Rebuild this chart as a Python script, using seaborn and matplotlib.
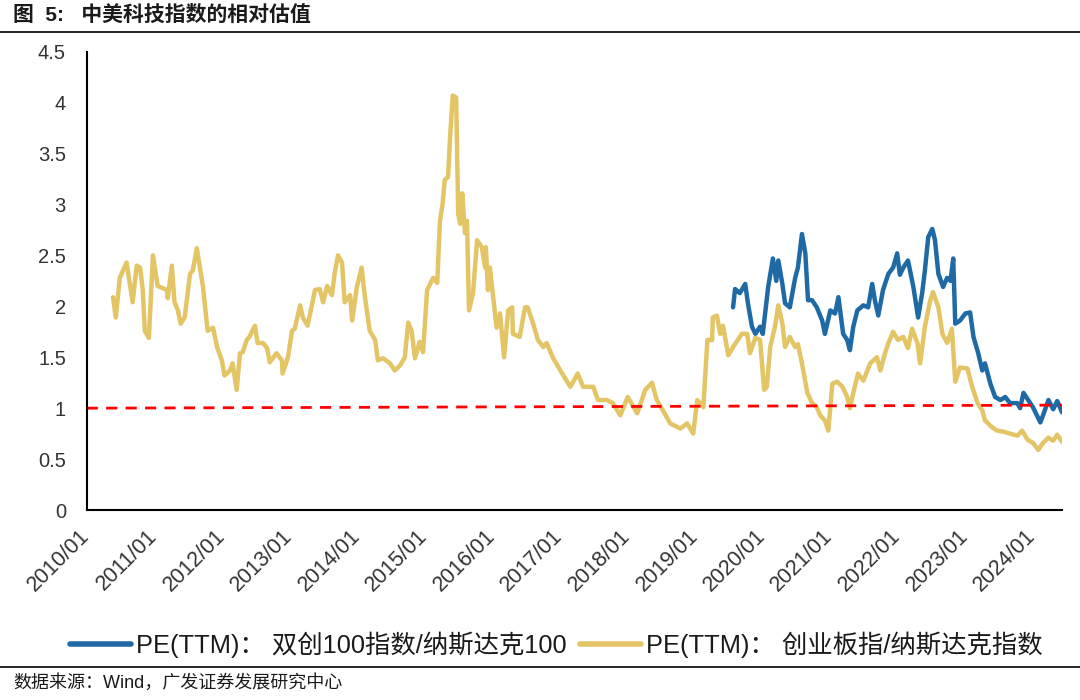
import pandas as pd
import matplotlib.pyplot as plt
import seaborn as sns

# PE(TTM) 创业板指/纳斯达克指数 (decimal year, ratio)
cyb_t = [2010.39, 2010.43, 2010.49, 2010.59, 2010.68, 2010.74, 2010.79, 2010.83, 2010.86, 2010.92,
         2010.98, 2011.05, 2011.19, 2011.20, 2011.26, 2011.30, 2011.35, 2011.39, 2011.45, 2011.53,
         2011.57, 2011.63, 2011.72, 2011.79, 2011.87, 2011.93, 2012.00, 2012.04, 2012.12, 2012.16,
         2012.22, 2012.27, 2012.31, 2012.37, 2012.41, 2012.49, 2012.53, 2012.61, 2012.67, 2012.71,
         2012.81, 2012.89, 2012.90, 2012.98, 2013.04, 2013.08, 2013.16, 2013.20, 2013.27, 2013.38,
         2013.45, 2013.50, 2013.56, 2013.63, 2013.67, 2013.72, 2013.78, 2013.82, 2013.90, 2013.93,
         2014.00, 2014.07, 2014.12, 2014.19, 2014.27, 2014.31, 2014.39, 2014.49, 2014.56, 2014.64,
         2014.71, 2014.76, 2014.81, 2014.86, 2014.93, 2014.98, 2015.04, 2015.13, 2015.19, 2015.23,
         2015.27, 2015.30, 2015.35, 2015.38, 2015.42, 2015.47, 2015.50, 2015.53, 2015.56, 2015.60,
         2015.63, 2015.66, 2015.72, 2015.78, 2015.85, 2015.90, 2015.91, 2015.94, 2015.97, 2016.04,
         2016.07, 2016.12, 2016.18, 2016.24, 2016.30, 2016.31, 2016.41, 2016.49, 2016.53, 2016.61,
         2016.68, 2016.76, 2016.81, 2016.90, 2017.04, 2017.16, 2017.27, 2017.35, 2017.50, 2017.57,
         2017.70, 2017.79, 2017.90, 2018.01, 2018.15, 2018.27, 2018.37, 2018.44, 2018.53, 2018.64,
         2018.79, 2018.89, 2018.98, 2019.04, 2019.13, 2019.19, 2019.26, 2019.27, 2019.33, 2019.38,
         2019.42, 2019.50, 2019.57, 2019.70, 2019.78, 2019.82, 2019.90, 2019.97, 2020.03, 2020.07,
         2020.12, 2020.19, 2020.24, 2020.30, 2020.34, 2020.41, 2020.49, 2020.53, 2020.59, 2020.67,
         2020.74, 2020.81, 2020.86, 2020.93, 2020.98, 2021.04, 2021.11, 2021.19, 2021.26, 2021.30,
         2021.35, 2021.42, 2021.50, 2021.60, 2021.70, 2021.75, 2021.82, 2021.87, 2021.94, 2022.01,
         2022.09, 2022.16, 2022.22, 2022.30, 2022.34, 2022.41, 2022.49, 2022.53, 2022.61, 2022.67,
         2022.74, 2022.81, 2022.86, 2022.93, 2023.04, 2023.11, 2023.19, 2023.26, 2023.30, 2023.41,
         2023.48, 2023.57, 2023.67, 2023.78, 2023.85, 2023.93, 2024.01, 2024.09, 2024.16, 2024.24,
         2024.31, 2024.37, 2024.44]
cyb_v = [2.09, 1.89, 2.28, 2.43, 2.04, 2.40, 2.38, 2.16, 1.76, 1.69,
         2.50, 2.20, 2.16, 2.08, 2.40, 2.04, 1.96, 1.83, 1.89, 2.32,
         2.35, 2.57, 2.20, 1.76, 1.79, 1.60, 1.47, 1.32, 1.37, 1.44,
         1.18, 1.54, 1.55, 1.67, 1.70, 1.81, 1.64, 1.64, 1.59, 1.45,
         1.54, 1.47, 1.34, 1.50, 1.76, 1.78, 2.01, 1.89, 1.81, 2.16,
         2.17, 2.04, 2.20, 2.11, 2.32, 2.50, 2.43, 2.04, 2.11, 1.86,
         2.19, 2.38, 2.09, 1.76, 1.67, 1.47, 1.49, 1.44, 1.37, 1.42,
         1.50, 1.84, 1.76, 1.49, 1.65, 1.55, 2.16, 2.28, 2.23, 2.84,
         3.01, 3.24, 3.27, 3.66, 4.07, 4.05, 2.91, 2.81, 3.11, 2.72,
         2.84, 1.96, 2.13, 2.65, 2.58, 2.38, 2.58, 2.16, 2.38, 1.96,
         1.79, 1.93, 1.50, 1.96, 1.99, 1.73, 1.70, 1.99, 1.99, 1.83,
         1.67, 1.60, 1.64, 1.50, 1.34, 1.21, 1.34, 1.21, 1.21, 1.08,
         1.08, 1.05, 0.93, 1.11, 0.95, 1.18, 1.25, 1.08, 0.98, 0.85,
         0.80, 0.85, 0.75, 1.08, 1.01, 1.67, 1.67, 1.89, 1.91, 1.73,
         1.81, 1.52, 1.60, 1.73, 1.73, 1.54, 1.69, 1.67, 1.18, 1.21,
         1.60, 1.80, 2.01, 1.83, 1.60, 1.70, 1.60, 1.63, 1.44, 1.15,
         1.05, 1.01, 0.93, 0.88, 0.78, 1.24, 1.26, 1.21, 1.11, 1.00,
         1.15, 1.34, 1.27, 1.44, 1.50, 1.37, 1.54, 1.64, 1.75, 1.67,
         1.70, 1.59, 1.78, 1.64, 1.44, 1.80, 2.06, 2.14, 1.99, 1.73,
         1.64, 1.78, 1.26, 1.40, 1.39, 1.21, 1.05, 0.98, 0.88, 0.81,
         0.78, 0.77, 0.75, 0.73, 0.78, 0.69, 0.66, 0.59, 0.66, 0.71,
         0.68, 0.74, 0.67]

# PE(TTM) 双创100指数/纳斯达克100
sc_t = [2019.57, 2019.60, 2019.67, 2019.75, 2019.79, 2019.85, 2019.90, 2019.97, 2020.01, 2020.09,
        2020.16, 2020.21, 2020.24, 2020.30, 2020.34, 2020.41, 2020.49, 2020.53, 2020.59, 2020.64,
        2020.68, 2020.74, 2020.81, 2020.89, 2020.93, 2021.01, 2021.08, 2021.13, 2021.20, 2021.26,
        2021.30, 2021.35, 2021.41, 2021.50, 2021.57, 2021.63, 2021.67, 2021.72, 2021.79, 2021.87,
        2021.94, 2022.00, 2022.04, 2022.09, 2022.16, 2022.24, 2022.31, 2022.37, 2022.41, 2022.46,
        2022.52, 2022.56, 2022.61, 2022.68, 2022.74, 2022.79, 2022.83, 2022.86, 2022.93, 2023.01,
        2023.08, 2023.13, 2023.20, 2023.26, 2023.30, 2023.38, 2023.45, 2023.53, 2023.60, 2023.67,
        2023.78, 2023.82, 2023.87, 2023.94, 2024.01, 2024.12, 2024.16, 2024.24, 2024.31, 2024.37,
        2024.44]
sc_v = [1.99, 2.17, 2.13, 2.22, 2.03, 1.80, 1.73, 1.80, 1.73, 2.19,
        2.47, 2.25, 2.45, 2.22, 2.03, 1.99, 2.28, 2.38, 2.71, 2.52,
        2.06, 2.06, 1.99, 1.86, 1.73, 1.96, 1.93, 2.09, 1.73, 1.67,
        1.57, 1.80, 1.96, 2.01, 1.99, 2.22, 2.06, 1.91, 2.16, 2.32,
        2.38, 2.52, 2.31, 2.38, 2.45, 2.19, 1.89, 2.13, 2.35, 2.68,
        2.76, 2.65, 2.32, 2.19, 2.28, 2.25, 2.47, 1.83, 1.86, 1.93,
        1.94, 1.70, 1.54, 1.37, 1.44, 1.24, 1.11, 1.08, 1.11, 1.05,
        1.05, 1.00, 1.15, 1.08, 1.01, 0.86, 0.93, 1.08, 0.99, 1.07,
        0.96]

# reference line (ratio = 1)
ref_t = [2010.0, 2024.44]
ref_v = [1.0, 1.03]

years = list(range(2010, 2025))
year_labels = [f"{y}/01" for y in years]

sns.set_style("white")
plt.rcParams['font.family'] = ['Liberation Sans', 'Noto Sans CJK SC', 'DejaVu Sans']
plt.rcParams['axes.unicode_minus'] = False

fig = plt.figure(figsize=(10.8, 7), dpi=100)
ax = fig.add_axes([0.0803, 0.2714, 0.903, 0.6547])

sns.lineplot(x=sc_t, y=sc_v, ax=ax, color='#1f6aa5', lw=3.2, sort=False,
             label='PE(TTM)： 双创100指数/纳斯达克100')
sns.lineplot(x=cyb_t, y=cyb_v, ax=ax, color='#e3c565', lw=3.2, sort=False,
             label='PE(TTM)： 创业板指/纳斯达克指数')
ax.plot(ref_t, ref_v, color='#ff0000', lw=2, dashes=(4, 3))

ax.set_xlim(2010, 2024.44)
ax.set_ylim(0, 4.5)
ax.set_yticks([0, 0.5, 1, 1.5, 2, 2.5, 3, 3.5, 4, 4.5])
ax.set_yticklabels(['0', '0.5', '1', '1.5', '2', '2.5', '3', '3.5', '4', '4.5'])
ax.set_xticks(years)
ax.set_xticklabels(year_labels, rotation=45, ha='right', va='center', rotation_mode='anchor')
ax.tick_params(axis='both', colors='#333333', direction='out', width=1.5)
ax.tick_params(axis='x', labelsize=15.5, length=4.5, pad=12)
ax.tick_params(axis='y', labelsize=14.5, length=5, pad=10)
for s in ['top', 'right']:
    ax.spines[s].set_visible(False)
for s in ['left', 'bottom']:
    ax.spines[s].set_color('black')
    ax.spines[s].set_linewidth(1.5)
ax.set_xlabel('')
ax.set_ylabel('')

leg = ax.legend(loc='center', bbox_to_anchor=(0.515, 0.0786), bbox_transform=fig.transFigure,
                ncol=2, frameon=False, fontsize=18.3, handlelength=2.4, handletextpad=0.2,
                columnspacing=0.55, borderpad=0)
for line in leg.get_lines():
    line.set_linewidth(4)
for txt in leg.get_texts():
    txt.set_color('#1a1a1a')

fig.text(0.012, 0.979, '图  5:   中美科技指数的相对估值', fontsize=15, fontweight='bold',
         va='center', ha='left', color='#1a1a1a')
fig.add_artist(plt.Line2D([0, 1], [0.954, 0.954], color='black', lw=1.2))
fig.add_artist(plt.Line2D([0, 1], [0.047, 0.047], color='black', lw=1.2))
fig.text(0.012, 0.024, '数据来源：Wind，广发证券发展研究中心', fontsize=13,
         va='center', ha='left', color='#1a1a1a')

plt.savefig('out.png', dpi=100)
